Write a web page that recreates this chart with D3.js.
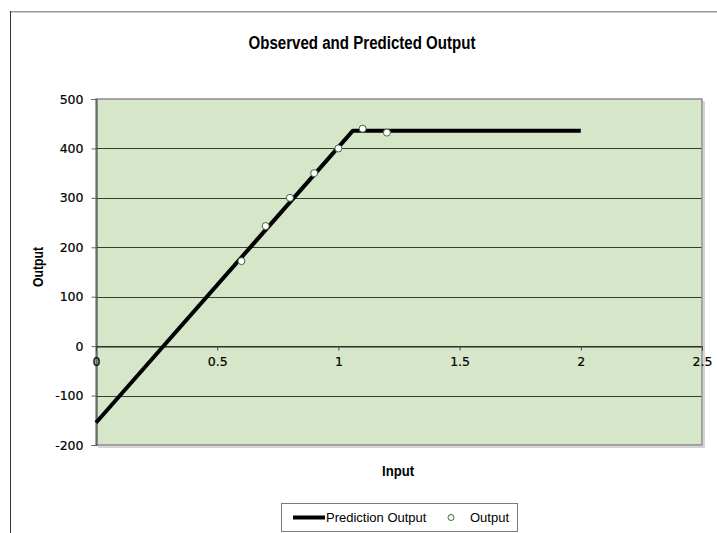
<!DOCTYPE html>
<html>
<head>
<meta charset="utf-8">
<script src="https://cdn.jsdelivr.net/npm/d3@7"></script>
<style>
  html, body { margin: 0; padding: 0; background: #fff; }
  svg { display: block; }
</style>
</head>
<body>
<svg id="chart" width="717" height="533"></svg>
<script>
// ---- data ----
const observedInput  = [0.6, 0.7, 0.8, 0.9, 1.0, 1.1, 1.2];
const observedOutput = [172, 243, 300, 350, 400, 440, 432];
const predictionInput  = [0, 1.06, 2.0];
const predictionOutput = [-155, 436, 436];
const xTicks = [0, 0.5, 1, 1.5, 2, 2.5];
const yTicks = [-200, -100, 0, 100, 200, 300, 400, 500];
const titleText = "Observed and Predicted Output";
const xTitle = "Input";
const yTitle = "Output";
const legendLabels = ["Prediction Output", "Output"];

// ---- layout ----
const svg = d3.select("#chart");
const pL = 96, pR = 702, pT = 99, pB = 445;
const x = d3.scaleLinear().domain([0, 2.5]).range([pL, pR]);
const y = d3.scaleLinear().domain([-200, 500]).range([pB, pT]);
const titleFont = "'Liberation Sans Narrow', 'Arial Narrow', 'Liberation Sans', sans-serif";
const tickFont = "'DejaVu Sans', Verdana, sans-serif";

// outer chart frame (partially visible)
svg.append("line").attr("x1", 10).attr("x2", 717).attr("y1", 11.75).attr("y2", 11.75)
  .attr("stroke", "#9a9a9a").attr("stroke-width", 1.5);
svg.append("line").attr("x1", 10.5).attr("x2", 10.5).attr("y1", 11).attr("y2", 533)
  .attr("stroke", "#333").attr("stroke-width", 1);

// plot area background
svg.append("rect").attr("x", pL).attr("y", pT).attr("width", pR - pL).attr("height", pB - pT)
  .attr("fill", "#d6e6c9");

// horizontal gridlines
svg.append("g").selectAll("line").data(yTicks.filter(d => d > -200 && d < 500)).join("line")
  .attr("x1", pL).attr("x2", pR)
  .attr("y1", d => Math.round(y(d)) + 0.5).attr("y2", d => Math.round(y(d)) + 0.5)
  .attr("stroke", "#3a3a3a").attr("stroke-width", 1);

// plot border: shadow + gray outline
svg.append("path")
  .attr("d", `M${pR + 2},${pT + 2}V${pB + 2}H${pL + 2}`)
  .attr("fill", "none").attr("stroke", "#c8c8c8").attr("stroke-width", 1.5);
svg.append("rect").attr("x", pL).attr("y", pT).attr("width", pR - pL).attr("height", pB - pT)
  .attr("fill", "none").attr("stroke", "#8a8a8a").attr("stroke-width", 1.5);

// y axis
const yAxis = d3.axisLeft(y).tickValues(yTicks).tickSize(5).tickPadding(8).tickFormat(d => String(d));
const gy = svg.append("g").attr("transform", `translate(${pL + 0.5},0)`).call(yAxis);
gy.select(".domain").attr("stroke", "#333");
gy.selectAll(".tick line").attr("stroke", "#666");
gy.selectAll("text").style("font-family", tickFont).style("font-size", "12.5px").attr("fill", "#000")
  .attr("stroke", "#000").attr("stroke-width", 0.2);

// x axis along zero line
const xAxis = d3.axisBottom(x).tickValues(xTicks).tickSize(4).tickPadding(7).tickFormat(d => String(d));
const gx = svg.append("g").attr("transform", `translate(0,${Math.round(y(0)) + 0.5})`).call(xAxis);
gx.select(".domain").attr("stroke", "#222");
gx.selectAll(".tick line").attr("stroke", "#444");
gx.selectAll("text").style("font-family", tickFont).style("font-size", "12.5px").attr("fill", "#000")
  .attr("stroke", "#000").attr("stroke-width", 0.2);

// prediction line
const line = d3.line().x((d, i) => x(predictionInput[i])).y(d => y(d));
svg.append("path").datum(predictionOutput).attr("d", line)
  .attr("fill", "none").attr("stroke", "#000").attr("stroke-width", 4)
  .attr("stroke-linejoin", "round");

// observed points
svg.append("g").selectAll("circle").data(observedOutput).join("circle")
  .attr("cx", (d, i) => x(observedInput[i])).attr("cy", d => y(d)).attr("r", 3.5)
  .attr("fill", "#fff").attr("stroke", "#3d6b3d").attr("stroke-width", 1);

// titles (condensed bold)
svg.append("text").attr("x", 362).attr("y", 49).attr("text-anchor", "middle")
  .style("font-family", titleFont).style("font-weight", "bold").style("font-size", "18px").attr("fill", "#000")
  .attr("textLength", 227).attr("lengthAdjust", "spacingAndGlyphs")
  .text(titleText);
svg.append("text").attr("x", 398).attr("y", 476).attr("text-anchor", "middle")
  .style("font-family", titleFont).style("font-weight", "bold").style("font-size", "14.5px").attr("fill", "#000")
  .attr("textLength", 32).attr("lengthAdjust", "spacingAndGlyphs")
  .text(xTitle);
svg.append("text").attr("transform", `translate(43,267) rotate(-90)`).attr("text-anchor", "middle")
  .style("font-family", titleFont).style("font-weight", "bold").style("font-size", "14.5px").attr("fill", "#000")
  .attr("textLength", 40).attr("lengthAdjust", "spacingAndGlyphs")
  .text(yTitle);

// legend
const lg = svg.append("g");
lg.append("rect").attr("x", 281.5).attr("y", 503.5).attr("width", 236).attr("height", 28)
  .attr("fill", "#fff").attr("stroke", "#7a7a7a").attr("stroke-width", 1);
lg.append("line").attr("x1", 293).attr("x2", 325).attr("y1", 517.5).attr("y2", 517.5)
  .attr("stroke", "#000").attr("stroke-width", 4);
lg.append("text").attr("x", 326).attr("y", 522).style("font-family", "'Liberation Sans', Arial, sans-serif")
  .style("font-size", "13px").attr("fill", "#000").text(legendLabels[0]);
lg.append("circle").attr("cx", 451).attr("cy", 517.5).attr("r", 3)
  .attr("fill", "#fff").attr("stroke", "#3d6b3d").attr("stroke-width", 1);
lg.append("text").attr("x", 470).attr("y", 522).style("font-family", "'Liberation Sans', Arial, sans-serif")
  .style("font-size", "13px").attr("fill", "#000").text(legendLabels[1]);
</script>
</body>
</html>
